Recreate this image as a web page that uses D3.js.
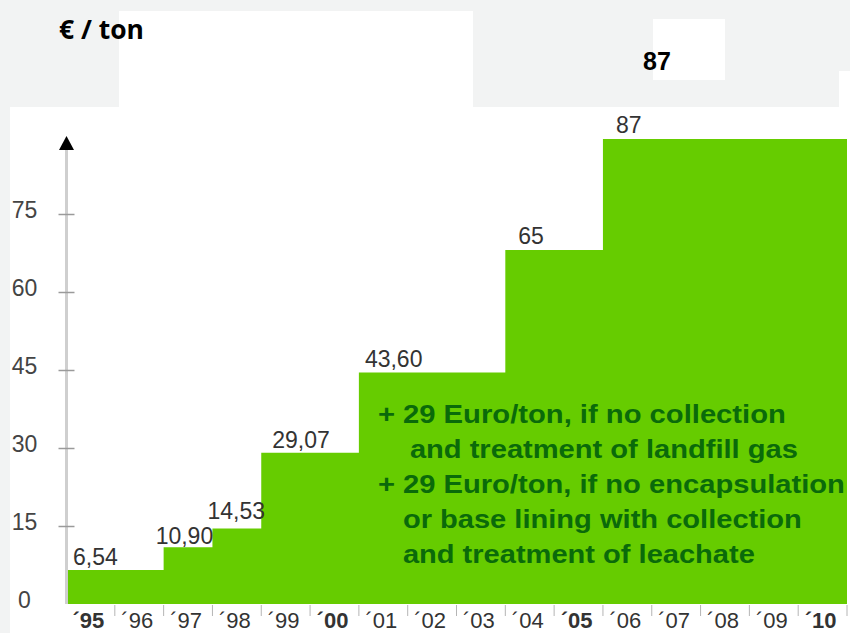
<!DOCTYPE html>
<html>
<head>
<meta charset="utf-8">
<script src="https://cdn.jsdelivr.net/npm/d3@7"></script>
<style>
  body { margin: 0; background: #f2f3f3; }
  svg { display: block; }
  .ylab { font-family: "Liberation Sans", Arial, sans-serif; font-size: 23px; fill: #444; }
  .xlab { font-family: "Liberation Sans", Arial, sans-serif; font-size: 22px; fill: #333; }
  .vlab { font-family: "Liberation Sans", Arial, sans-serif; font-size: 23px; fill: #333; }
  .note { font-family: "Liberation Sans", Arial, sans-serif; font-size: 26px; font-weight: bold; fill: #0a6a0a; }
</style>
</head>
<body>
<svg id="chart"></svg>
<script>
// data
const years = ["´95","´96","´97","´98","´99","´00","´01","´02","´03","´04","´05","´06","´07","´08","´09","´10"];
const boldYears = ["´95","´00","´05","´10"];
// step heights as drawn against the y axis (the last steps sit a bit above their printed value)
const levels = [6.54, 6.54, 10.90, 14.53, 29.07, 29.07, 44.5, 44.5, 44.5, 68.1, 68.1, 89.4, 89.4, 89.4, 89.4, 89.4];
const stepStarts = ["´95","´97","´98","´99","´01","´04","´06"];
const stepLabels = ["6,54","10,90","14,53","29,07","43,60","65","87"];
const yTicks = [0, 15, 30, 45, 60, 75];
const noteLines = [
  "+ 29 Euro/ton, if no collection",
  "and treatment of landfill gas",
  "+ 29 Euro/ton, if no encapsulation",
  "or base lining with collection",
  "and treatment of leachate"
];

/** CONSTANTS */
let width = 850, height = 633;

let svg = d3.select("#chart").attr("width", width).attr("height", height);

// white panels of the original slide
svg.append("rect").attr("x", 10).attr("y", 107).attr("width", 840).attr("height", 526).attr("fill", "#fff");
svg.append("rect").attr("x", 119).attr("y", 11).attr("width", 354).attr("height", 96).attr("fill", "#fff");
svg.append("rect").attr("x", 653).attr("y", 19).attr("width", 72).attr("height", 61).attr("fill", "#fff");
svg.append("rect").attr("x", 839).attr("y", 71).attr("width", 11).attr("height", 40).attr("fill", "#fff");

/** SCALES */
let xScale = d3.scaleBand().domain(years).range([66, 847]).padding(0);
let yScale = d3.scaleLinear().domain([0, 75]).range([604, 214]);

// stepped area
let pts = years.map((yr, i) => ({ x: xScale(yr), v: levels[i] }));
pts.push({ x: xScale.range()[1], v: levels[levels.length - 1] });
let area = d3.area()
  .x(d => d.x)
  .y0(yScale(0))
  .y1(d => yScale(d.v))
  .curve(d3.curveStepAfter);
svg.append("path").datum(pts).attr("d", area).attr("fill", "#66cc00");

// y axis
let axisX = 66.5;
svg.append("line")
  .attr("x1", axisX).attr("x2", axisX)
  .attr("y1", 150).attr("y2", yScale(0))
  .attr("stroke", "#cfcfcf").attr("stroke-width", 3);
svg.append("path")
  .attr("d", `M${axisX},136 L${axisX - 7.5},150 L${axisX + 7.5},150 Z`)
  .attr("fill", "#000");

let yAxis = d3.axisLeft(yScale).tickValues(yTicks).tickSize(8).tickFormat(d3.format("d"));
let gy = svg.append("g").attr("transform", `translate(${axisX},0)`).call(yAxis);
gy.select(".domain").remove();
gy.selectAll(".tick line").attr("x1", -8).attr("x2", 8).attr("stroke", "#9a9a9a").attr("stroke-width", 1.5);
gy.selectAll(".tick").filter(d => d === 0).select("line").remove();
gy.selectAll(".tick text")
  .attr("class", "ylab")
  .attr("x", -42).attr("dy", "0.32em").attr("y", -4)
  .attr("text-anchor", "middle")
  .attr("font-size", null).attr("font-family", null).attr("fill", null);

// x axis: labels in the bands, small ticks on the band edges
let xAxis = d3.axisBottom(xScale).tickSize(0).tickPadding(0);
let gx = svg.append("g").attr("transform", `translate(0,${yScale(0)})`).call(xAxis);
gx.select(".domain").remove();
gx.selectAll(".tick text")
  .attr("class", "xlab")
  .attr("x", -2).attr("y", 24).attr("dy", 0)
  .attr("font-weight", d => boldYears.includes(d) ? "bold" : "normal")
  .attr("font-size", null).attr("font-family", null).attr("fill", null);

svg.append("g")
  .selectAll("line")
  .data(years.slice(1).concat(["end"]))
  .join("line")
  .attr("x1", d => d === "end" ? xScale.range()[1] : xScale(d))
  .attr("x2", d => d === "end" ? xScale.range()[1] : xScale(d))
  .attr("y1", yScale(0) + 1).attr("y2", yScale(0) + 12)
  .attr("stroke", "#b5b5b5").attr("stroke-width", 1);

// value labels above each step
let nudgeX = [7, -8, -5, 11, 6, 13, 13],
  nudgeY = [-5, -3, -9, -5, -6, -6, -6];
svg.append("g")
  .selectAll("text")
  .data(stepLabels)
  .join("text")
  .attr("class", "vlab")
  .attr("x", (d, i) => xScale(stepStarts[i]) + nudgeX[i])
  .attr("y", (d, i) => yScale(levels[years.indexOf(stepStarts[i])]) + nudgeY[i])
  .text(d => d);

// note inside the green area
let noteX = xScale("´01") + 19, noteY = 423, noteStep = 35;
let noteIndent = [0, 32, 0, 25, 25],
  noteWidths = [408, 388, 467, 399, 352];
svg.append("g")
  .selectAll("text")
  .data(noteLines)
  .join("text")
  .attr("class", "note")
  .attr("x", (d, i) => noteX + noteIndent[i])
  .attr("y", (d, i) => noteY + i * noteStep)
  .attr("textLength", (d, i) => noteWidths[i])
  .attr("lengthAdjust", "spacingAndGlyphs")
  .text(d => d);

// titles on the slide
svg.append("text")
  .attr("x", 59).attr("y", 39)
  .attr("font-family", "'Open Sans', sans-serif").attr("font-weight", "bold").attr("font-size", 26)
  .attr("fill", "#000")
  .attr("textLength", 85).attr("lengthAdjust", "spacingAndGlyphs")
  .text("€ / ton");
svg.append("text")
  .attr("x", 643).attr("y", 70)
  .attr("font-family", "'Liberation Sans', Arial, sans-serif").attr("font-weight", "bold").attr("font-size", 25)
  .attr("fill", "#000")
  .text("87");
</script>
</body>
</html>
